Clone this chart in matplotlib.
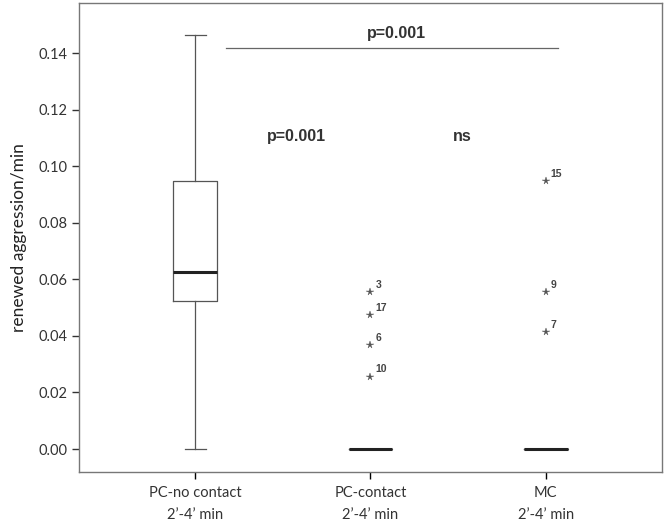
import matplotlib
matplotlib.use("Agg")
import matplotlib.pyplot as plt

plt.rcParams["font.family"] = ["Lato", "DejaVu Sans"]

groups = ["PC-no contact\n2\u2019-4\u2019 min", "PC-contact\n2\u2019-4\u2019 min", "MC\n2\u2019-4\u2019 min"]
whislo = [0.0, 0.0, 0.0]
q1 = [0.0525, 0.0, 0.0]
med = [0.0627, 0.0, 0.0]
q3 = [0.0948, 0.0, 0.0]
whishi = [0.1465, 0.0, 0.0]

# outliers (value, case id) per group
out_vals = [[], [0.0555, 0.0474, 0.0369, 0.0256], [0.0948, 0.0555, 0.0414]]
out_ids = [[], ["3", "17", "6", "10"], ["15", "9", "7"]]

stats = []
for i in range(len(groups)):
    stats.append({
        "whislo": whislo[i], "q1": q1[i], "med": med[i],
        "q3": q3[i], "whishi": whishi[i], "fliers": [],
    })

fig = plt.figure(figsize=(6.66, 5.29), dpi=100)
ax = fig.add_axes([0.1186, 0.1078, 0.8754, 0.8865])

pos = [1, 2, 3]
gray = "#555555"
ax.bxp(stats, positions=pos, widths=0.25, showfliers=False,
       boxprops=dict(color=gray, linewidth=0.9),
       whiskerprops=dict(color=gray, linewidth=0.9),
       capprops=dict(color=gray, linewidth=0.9),
       medianprops=dict(color="#222222", linewidth=2.2),
       capwidths=0.12)

bold = ["Liberation Sans", "DejaVu Sans"]
for p, vals, ids in zip(pos, out_vals, out_ids):
    for v, lab in zip(vals, ids):
        ax.plot(p, v, marker="*", color="#555555", markersize=5.5,
                markeredgewidth=0.3, linestyle="none")
        ax.annotate(lab, (p, v), xytext=(3.5, 3), textcoords="offset points",
                    fontsize=7.5, fontweight="bold", color="#444444", family=bold)

# significance annotations
ax.plot([1.177, 3.07], [0.1419, 0.1419], color="#666666", linewidth=0.9)
ax.text(2.15, 0.1442, "p=0.001", ha="center", va="bottom", fontsize=11.5,
        fontweight="bold", color="#333333", family=bold)
ax.text(1.577, 0.1105, "p=0.001", ha="center", va="center", fontsize=11.5,
        fontweight="bold", color="#333333", family=bold)
ax.text(2.526, 0.1105, "ns", ha="center", va="center", fontsize=11.5,
        fontweight="bold", color="#333333", family=bold)

ax.set_xlim(0.337, 3.663)
ax.set_ylim(-0.0081, 0.1577)
ax.set_yticks([0.00, 0.02, 0.04, 0.06, 0.08, 0.10, 0.12, 0.14])
ax.set_yticklabels(["0.00", "0.02", "0.04", "0.06", "0.08", "0.10", "0.12", "0.14"])
ax.set_xticks(pos)
ax.set_xticklabels(groups, fontsize=10.5, color="#333333", linespacing=1.7)
ax.tick_params(axis="y", labelsize=10.5, colors="#333333", length=5, width=1, direction="out")
ax.tick_params(axis="x", length=5, width=1, direction="out", pad=5)
ax.set_ylabel("renewed aggression/min", fontsize=12.5, color="#222222", labelpad=8)
for s in ax.spines.values():
    s.set_color("#777777")
    s.set_linewidth(1)

fig.savefig("out.png", dpi=100)
